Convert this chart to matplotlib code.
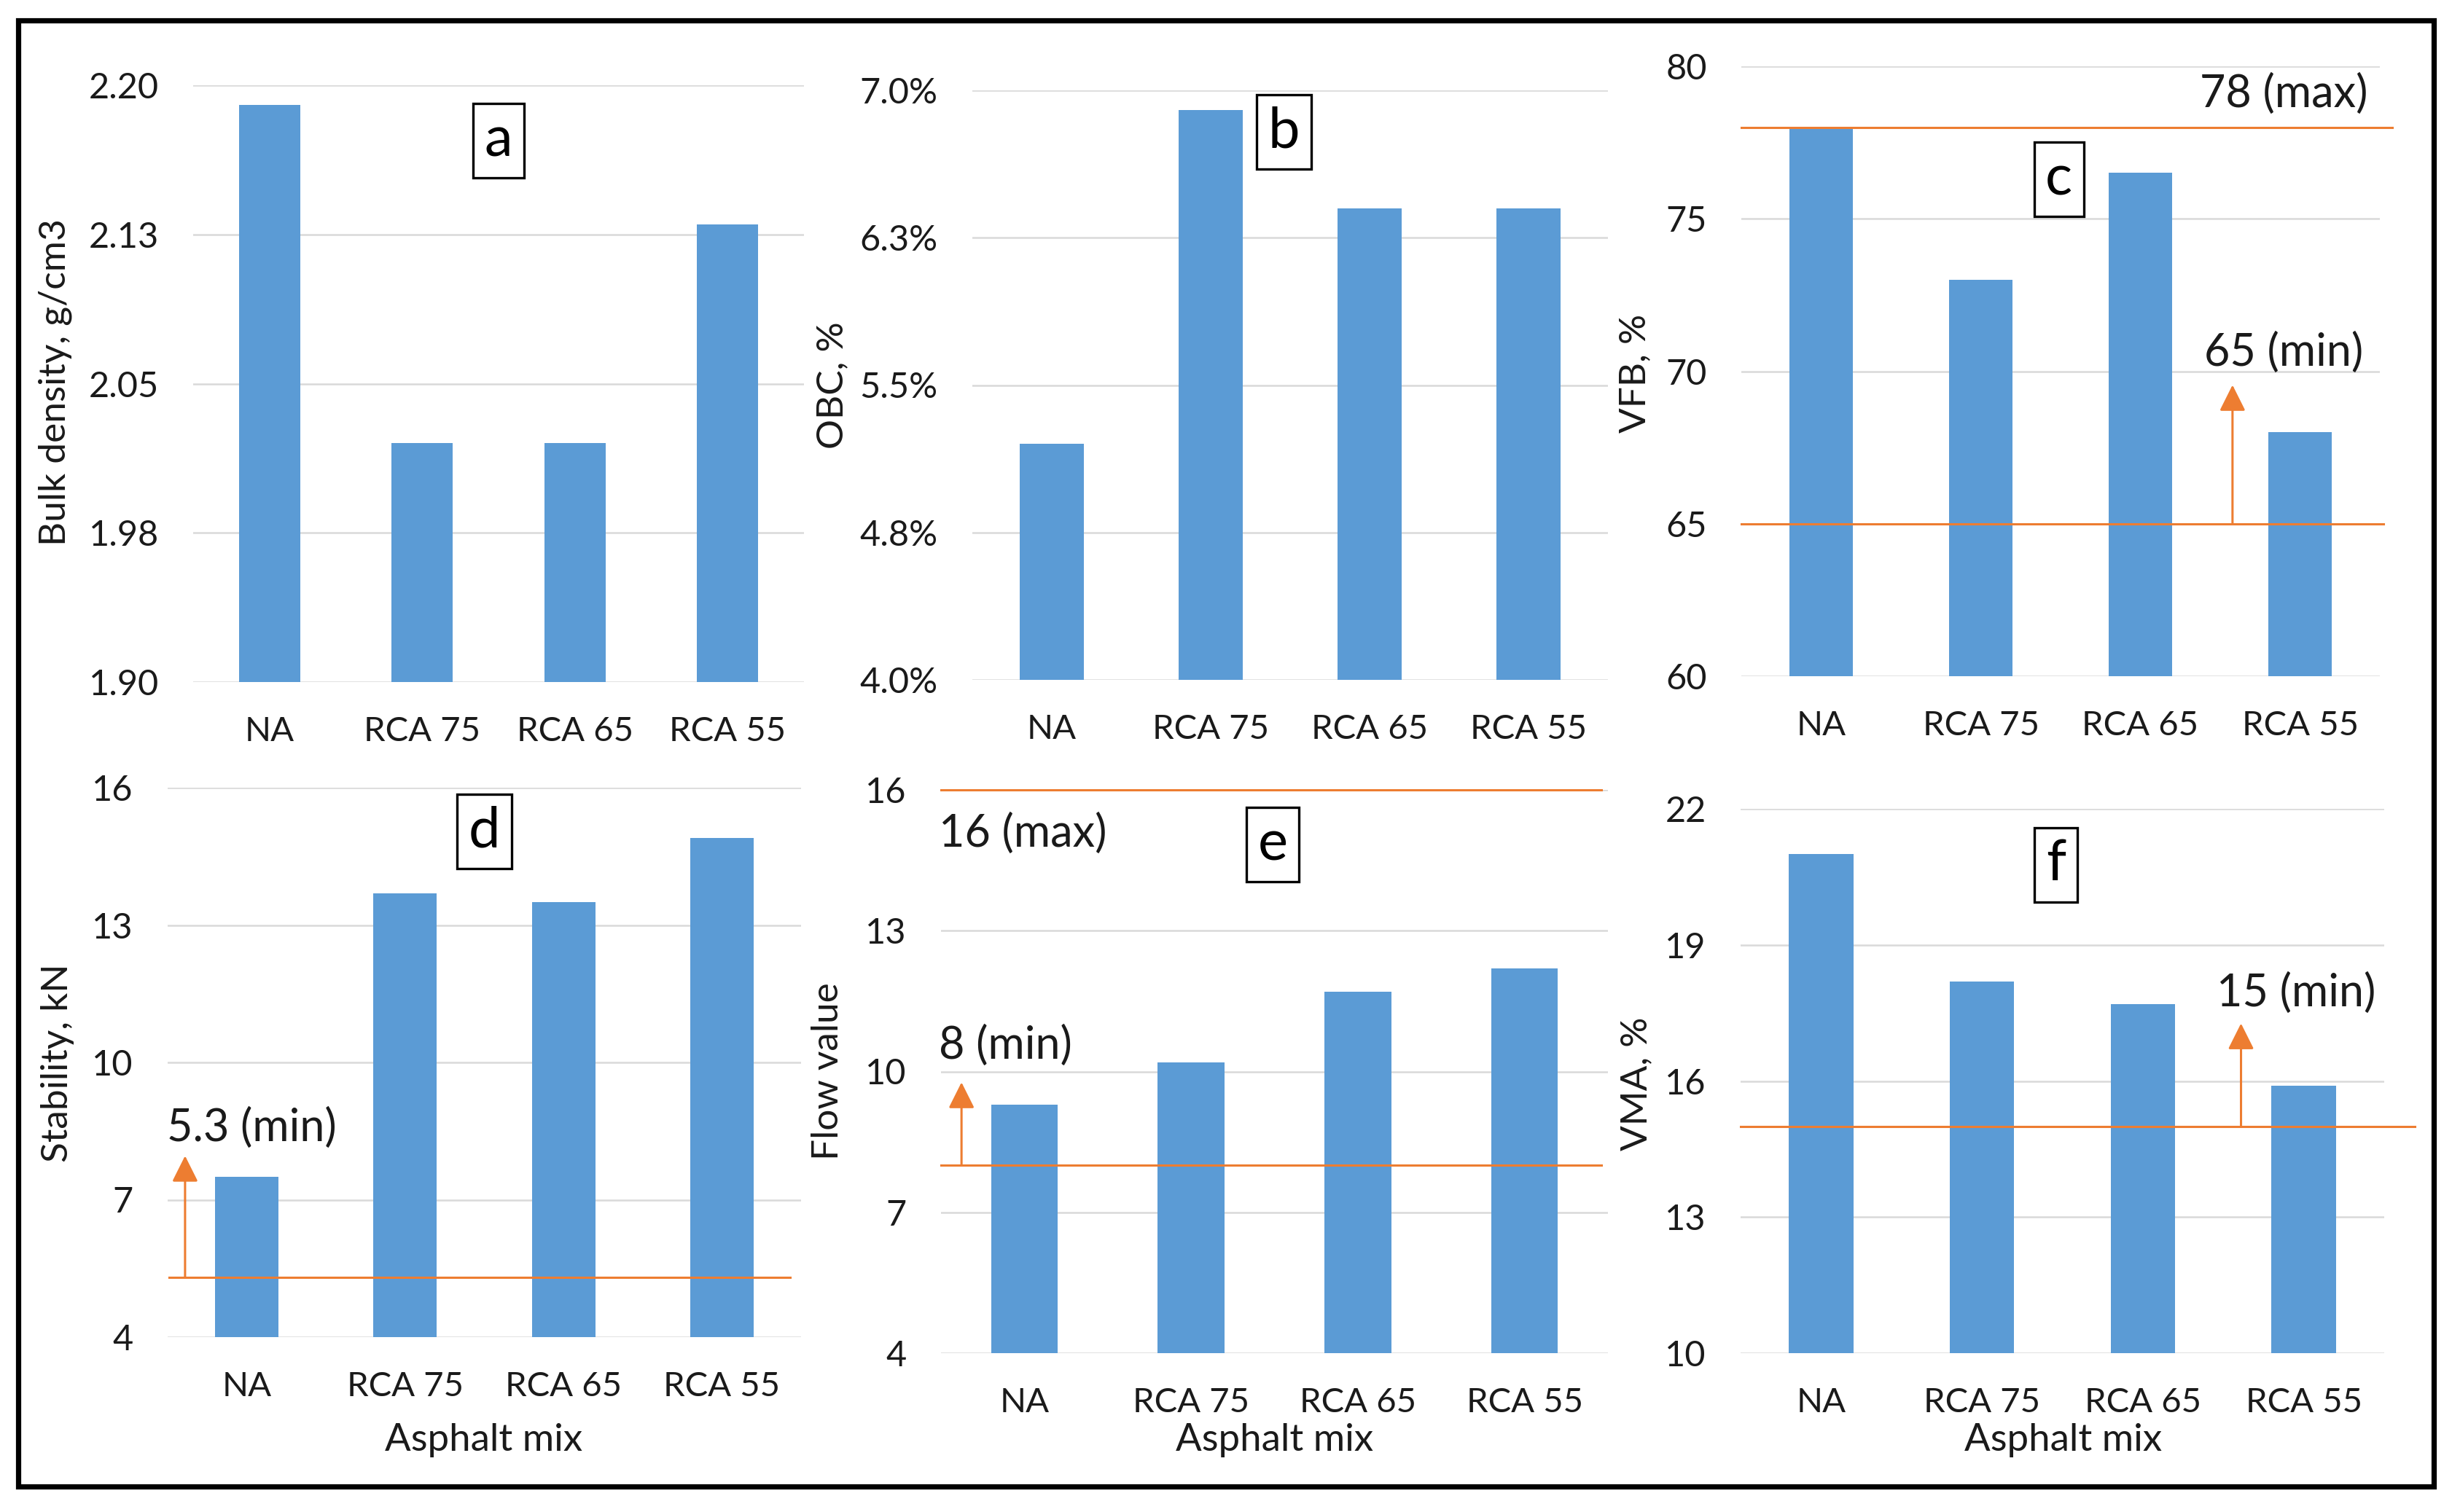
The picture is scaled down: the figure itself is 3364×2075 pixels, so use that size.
import matplotlib
matplotlib.use('Agg')
import matplotlib.pyplot as plt
from matplotlib.patches import Rectangle

plt.rcParams['font.family'] = ['Lato', 'DejaVu Sans']

# ---------------- data ----------------
categories = ['NA', 'RCA 75', 'RCA 65', 'RCA 55']

bulk_density = [2.19, 2.02, 2.02, 2.13]
obc = [5.2, 6.9, 6.4, 6.4]
vfb = [78.0, 73.0, 76.5, 68.0]
stability = [7.5, 13.7, 13.5, 14.9]
flow_value = [9.3, 10.2, 11.7, 12.2]
vma = [21.0, 18.2, 17.7, 15.9]

ticks_a = [1.90, 1.975, 2.05, 2.125, 2.20]
labels_a = ['1.90', '1.98', '2.05', '2.13', '2.20']
ticks_b = [4.0, 4.75, 5.5, 6.25, 7.0]
labels_b = ['4.0%', '4.8%', '5.5%', '6.3%', '7.0%']
ticks_c = [60, 65, 70, 75, 80]
ticks_d = [4, 7, 10, 13, 16]
ticks_e = [4, 7, 10, 13, 16]
ticks_f = [10, 13, 16, 19, 22]

ylabels = ['Bulk density, g/cm3', 'OBC, %', 'VFB, %', 'Stability, kN', 'Flow value', 'VMA, %']

# ---------------- style ----------------
BLUE = '#5B9BD5'
ORANGE = '#ED7D31'
GRID = '#D9D9D9'
TXT = '#1a1a1a'
W, H = 3364, 2075
DPI = 200

fig = plt.figure(figsize=(W / DPI, H / DPI), dpi=DPI)

def ax_at(left, top, right, bottom):
    return fig.add_axes([left / W, 1 - bottom / H, (right - left) / W, (bottom - top) / H])

def base(ax, values, ticks, ticklabels, ylim):
    x = range(len(categories))
    ax.bar(x, values, width=0.4, color=BLUE, zorder=2)
    ax.set_xlim(-0.5, 3.5)
    ax.set_ylim(*ylim)
    ax.set_yticks(ticks)
    ax.set_yticklabels(ticklabels)
    ax.set_xticks(list(x))
    ax.set_xticklabels(categories)
    for s in ax.spines.values():
        s.set_visible(False)
    ax.tick_params(axis='both', length=0, colors=TXT)
    ax.tick_params(axis='y', pad=17, labelsize=17.5)
    ax.tick_params(axis='x', pad=17, labelsize=17)
    ax.yaxis.grid(True, color=GRID, lw=0.9, zorder=0)
    ax.set_axisbelow(True)
    ax.patch.set_alpha(0)

def letter(ax, s, x, y):
    ax.text(x, y, s, fontsize=28, ha='center', va='center', color='black', zorder=5,
            bbox=dict(boxstyle='square,pad=0.2', fc='white', ec='black', lw=1.2))

def hline(ax, y, x0=0, x1=1):
    ax.axhline(y, xmin=x0, xmax=x1, color=ORANGE, lw=1.1, zorder=3, clip_on=False)

def arrow(ax, x, y0, y1):
    ax.annotate('', xy=(x, y1), xytext=(x, y0),
                arrowprops=dict(arrowstyle='-|>,head_length=1.1,head_width=0.55',
                                color=ORANGE, lw=1.1, shrinkA=0, shrinkB=0,
                                mutation_scale=10), zorder=4)

def note(ax, s, x, y):
    ax.text(x, y, s, fontsize=22, ha='left', va='center', color=TXT, zorder=5)

# panel a
ax_a = ax_at(265, 117, 1103, 936)
base(ax_a, bulk_density, ticks_a, labels_a, (1.90, 2.20))
letter(ax_a, 'a', 1.50, 2.172)

# panel b
ax_b = ax_at(1334, 124, 2206, 933)
base(ax_b, obc, ticks_b, labels_b, (4.0, 7.0))
letter(ax_b, 'b', 1.46, 6.79)

# panel c
ax_c = ax_at(2389, 91, 3265, 928)
base(ax_c, vfb, ticks_c, [str(t) for t in ticks_c], (60, 80))
hline(ax_c, 78, 0, 1.019)
hline(ax_c, 65, 0, 1.006)
arrow(ax_c, 2.577, 65, 69.55)
note(ax_c, '78 (max)', 2.37, 79.08)
note(ax_c, '65 (min)', 2.40, 70.61)
letter(ax_c, 'c', 1.49, 76.3)

# panel d
ax_d = ax_at(230, 1081, 1099, 1835)
base(ax_d, stability, ticks_d, [str(t) for t in ticks_d], (4, 16))
hline(ax_d, 5.3, 0.002, 0.983)
arrow(ax_d, -0.39, 5.3, 7.96)
note(ax_d, '5.3 (min)', -0.505, 8.56)
letter(ax_d, 'd', 1.50, 15.05)

# panel e
ax_e = ax_at(1291, 1084, 2206, 1857)
base(ax_e, flow_value, ticks_e, [str(t) for t in ticks_e], (4, 16))
hline(ax_e, 16, 0, 0.99)
hline(ax_e, 8, 0, 0.99)
arrow(ax_e, -0.377, 8, 9.77)
note(ax_e, '16 (max)', -0.515, 15.06)
note(ax_e, '8 (min)', -0.515, 10.54)
letter(ax_e, 'e', 1.49, 14.84)

# panel f
ax_f = ax_at(2388, 1110, 3271, 1857)
base(ax_f, vma, ticks_f, [str(t) for t in ticks_f], (10, 22))
hline(ax_f, 15, 0, 1.048)
arrow(ax_f, 2.61, 15, 17.27)
note(ax_f, '15 (min)', 2.457, 17.93)
letter(ax_f, 'f', 1.46, 20.77)

# y labels
ylab_pos = [(76, 525), (1142, 529), (2243, 512), (79, 1459), (1136, 1470), (2245, 1487)]
for lab, (px, py) in zip(ylabels, ylab_pos):
    fig.text(px / W, 1 - py / H, lab, rotation=90, ha='center', va='center',
             fontsize=18.5, color=TXT)

# x labels
for px in (664, 1749, 2831):
    fig.text(px / W, 1 - 1977 / H, 'Asphalt mix', ha='center', va='center',
             fontsize=19, color=TXT)

# outer frame
fig.patches.append(Rectangle((25 / W, 1 - 2040 / H), (3339 - 25) / W, (2040 - 28) / H,
                             transform=fig.transFigure, fill=False, ec='black', lw=2.6))

fig.savefig('out.png', dpi=DPI, facecolor='white')
